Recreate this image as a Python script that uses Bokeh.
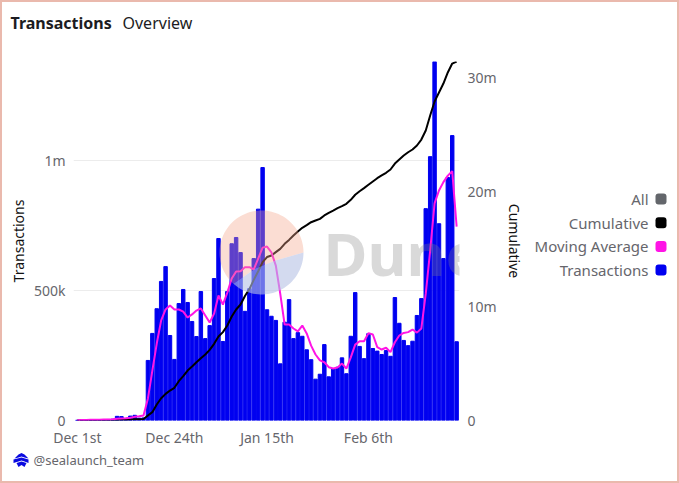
from bokeh.embed import file_html
from bokeh.layouts import column, row
from bokeh.resources import INLINE
from bokeh.models import BoxAnnotation, FixedTicker, Label, LinearAxis, NumeralTickFormatter, PolyAnnotation, Range1d
from bokeh.plotting import figure
import numpy as np

# Data section ################################################################

tick_positions = [0, 22, 43, 66]
tick_labels = ["Dec 1st", "Dec 24th", "Jan 15th", "Feb 6th"]

transactions = [
    1000, 1500, 2000, 2500, 3000, 3000, 3500, 4000, 5000, 16000, 15000, 8000, 17000, 20000, 9000, 10000,
    231000, 335000, 430000, 535000, 592000, 327000, 235000, 450000, 504000, 454000, 381000, 323000, 496000,
    315000, 365000, 546000, 700000, 304000, 496000, 680000, 704000, 646000, 420000, 507000, 623000, 813000,
    973000, 426000, 401000, 385000, 218000, 378000, 465000, 315000, 338000, 324000, 272000, 234000, 159000,
    178000, 292000, 168000, 199000, 205000, 241000, 180000, 324000, 492000, 285000, 238000, 334000, 277000,
    267000, 254000, 269000, 247000, 473000, 374000, 308000, 288000, 305000, 404000, 469000, 815000, 1015000,
    1380000, 757000, 623000, 935000, 1096000, 303000,
]

moving_average = [
    1000, 1500, 2000, 2500, 3000, 3000, 3500, 4000, 5000, 7000, 8000, 9000, 11000, 14000, 16000, 19000,
    85000, 192000, 296000, 385000, 427000, 442000, 427000, 427000, 419000, 396000, 408000, 423000, 431000,
    404000, 377000, 411000, 481000, 446000, 492000, 546000, 573000, 574000, 590000, 590000, 581000, 623000,
    665000, 669000, 647000, 596000, 488000, 369000, 369000, 354000, 343000, 365000, 335000, 288000, 254000,
    231000, 224000, 205000, 200000, 204000, 219000, 200000, 243000, 292000, 305000, 305000, 336000, 331000,
    282000, 273000, 280000, 263000, 301000, 327000, 337000, 340000, 350000, 338000, 354000, 488000, 654000,
    835000, 885000, 917000, 942000, 959000, 746000,
]

cumulative = [
    10000, 12000, 15000, 18000, 21000, 24000, 27000, 30000, 35000, 50000, 65000, 75000, 90000, 110000, 120000, 130000,
    440000, 730000, 1400000, 1950000, 2330000, 2620000, 2860000, 3440000, 3880000, 4370000, 4720000, 5100000,
    5450000, 5770000, 6180000, 6710000, 7350000, 7730000, 8310000, 9100000, 9710000, 10150000, 10900000, 11500000,
    12300000, 13060000, 13850000, 14300000, 14440000, 14730000, 15020000, 15460000, 15800000, 16190000, 16540000,
    16860000, 17090000, 17350000, 17500000, 17640000, 17940000, 18170000, 18370000, 18580000, 18750000, 18960000,
    19310000, 19750000, 20060000, 20330000, 20620000, 20910000, 21200000, 21440000, 21670000, 21960000, 22480000,
    22830000, 23180000, 23470000, 23710000, 24060000, 24580000, 25370000, 26680000, 27910000, 28700000, 29480000,
    30450000, 31230000, 31400000,
]

legend_names = ["All", "Cumulative", "Moving Average", "Transactions"]
legend_colors = ["#63666b", "#000000", "#ff14e6", "#0000f0"]

# Plot configuration section ##################################################

font = "Noto Sans"
grey_text = "#66666c"
days = list(range(len(transactions)))


def blank_figure(width, height):
    # frame fills the whole figure, only used to hold texts outside the chart
    fig = figure(width=width, height=height, output_backend="svg", toolbar_location=None,
                 min_border=0, x_axis_location=None, y_axis_location=None,
                 background_fill_color=None, border_fill_color=None)
    fig.grid.visible = False
    fig.outline_line_color = None
    return fig


def text(x, y, value, size="14px", color=grey_text, style="normal", align="left"):
    return Label(x=x, y=y, x_units="canvas", y_units="canvas", text=value, text_font=font, text_font_size=size,
                 text_color=color, text_font_style=style, text_align=align, text_baseline="middle")


# Main chart ##################################################################

main = figure(width=530, height=409, output_backend="svg", toolbar_location=None,
              x_range=Range1d(-0.88, 86.65), y_range=Range1d(0, 1381000),
              min_border_left=73, min_border_right=71, min_border_top=21, min_border_bottom=29,
              background_fill_color=None, border_fill_color=None)
main.outline_line_color = None
main.xgrid.visible = False
main.ygrid.grid_line_color = "#ececec"
main.ygrid.ticker = FixedTicker(ticks=[500000, 1000000])

main.extra_y_ranges = {"cumulative": Range1d(0, 31410000)}
right_axis = LinearAxis(y_range_name="cumulative", axis_label="Cumulative")
main.add_layout(right_axis, "right")

for axis in [main.xaxis[0], main.yaxis[0], right_axis]:
    axis.axis_line_color = None
    axis.major_tick_line_color = None
    axis.major_tick_out = 0
    axis.major_tick_in = 0
    axis.minor_tick_line_color = None
    axis.minor_tick_out = 0
    axis.major_label_text_font = font
    axis.major_label_text_font_size = "14px"
    axis.major_label_text_color = grey_text
    axis.axis_label_text_font = font
    axis.axis_label_text_font_size = "14px"
    axis.axis_label_text_font_style = "normal"
    axis.axis_label_text_color = "#111111"

main.xaxis[0].ticker = FixedTicker(ticks=tick_positions)
main.xaxis[0].major_label_overrides = dict(zip(tick_positions, tick_labels))
main.xaxis[0].major_label_standoff = 7

main.yaxis[0].axis_label = "Transactions"
main.yaxis[0].ticker = FixedTicker(ticks=[0, 500000, 1000000])
main.yaxis[0].formatter = NumeralTickFormatter(format="0a")
main.yaxis[0].major_label_standoff = 8
main.yaxis[0].axis_label_standoff = 3

right_axis.ticker = FixedTicker(ticks=[0, 10000000, 20000000, 30000000])
right_axis.formatter = NumeralTickFormatter(format="0a")
right_axis.major_label_standoff = 8
right_axis.axis_label_standoff = 5

main.vbar(x=days, top=transactions, width=0.78, color=legend_colors[3])
main.line(days, cumulative, y_range_name="cumulative", color=legend_colors[1], line_width=2)
main.line(days, moving_average, color=legend_colors[2], line_width=2)

# Dune watermark, painted over the marks
arc_top = np.radians(np.linspace(132, 360, 70))
arc_low = np.radians(np.linspace(0, 132, 40))
edge_x = [275, 255, 242]
edge_y = [220, 228, 237]
main.add_layout(PolyAnnotation(xs=list(261 + 42 * np.cos(arc_top)) + edge_x,
                               ys=list(212 + 42 * np.sin(arc_top)) + edge_y,
                               xs_units="canvas", ys_units="canvas", fill_color="#f4a58c", fill_alpha=0.38,
                               line_color=None, level="overlay"))
main.add_layout(PolyAnnotation(xs=list(261 + 42 * np.cos(arc_low)) + edge_x[::-1],
                               ys=list(212 + 42 * np.sin(arc_low)) + edge_y[::-1],
                               xs_units="canvas", ys_units="canvas", fill_color="#b6c2e4", fill_alpha=0.6,
                               line_color=None, level="overlay"))
watermark = text(323, 212, "Dune", "60px", "#808080", "bold")
watermark.text_alpha = 0.3
watermark.level = "overlay"
main.add_layout(watermark)

# Header, legend and footer ###################################################

header = blank_figure(679, 40)
header.add_layout(text(10, 22, "Transactions", "16px", "#1c1c22", "bold"))
header.add_layout(text(122, 22, "Overview", "16px", "#1c1c22"))

legend_panel = blank_figure(149, 409)
for i, (name, color) in enumerate(zip(legend_names, legend_colors)):
    cy = 158.5 + 23.7 * i
    legend_panel.add_layout(text(118, cy, name, "15px", align="right"))
    legend_panel.add_layout(BoxAnnotation(left=125, right=136, top=cy - 5.5, bottom=cy + 5.5, left_units="canvas",
                                          right_units="canvas", top_units="canvas", bottom_units="canvas",
                                          fill_color=color, fill_alpha=1, line_color=None, border_radius=3))

footer = blank_figure(679, 34)
for xs, ys in [([14, 18, 21, 24, 28, 24, 21, 18], [9, 5, 3.5, 5, 9, 8, 7, 8]),
               ([13, 21, 28, 28, 24, 21, 18, 13], [10, 8, 10, 13.5, 12, 11, 12, 13.5]),
               ([16, 21, 26, 24, 21, 18], [13.5, 12, 13.5, 17.5, 15.5, 17.5])]:
    footer.add_layout(PolyAnnotation(xs=xs, ys=ys, xs_units="canvas", ys_units="canvas",
                                     fill_color="#0a0ae0", fill_alpha=1, line_color=None))
footer.add_layout(text(33, 10.5, "@sealaunch_team", "13px"))

page = column(header, row(main, legend_panel), footer, spacing=0,
              styles={"outline": "2px solid #eab9ad", "outline-offset": "-2px"})

open("out.html", "w").write(file_html(page, INLINE))
